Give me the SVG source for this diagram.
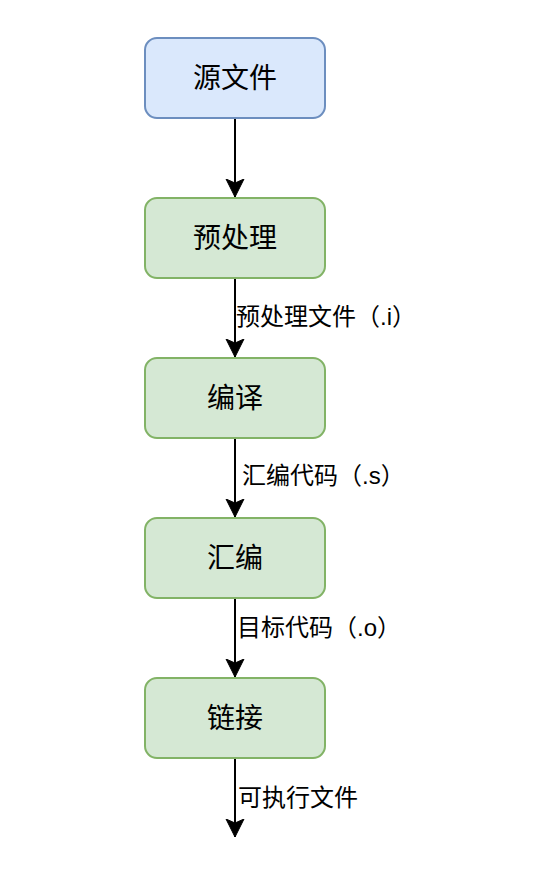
<svg xmlns="http://www.w3.org/2000/svg" width="542" height="872" viewBox="0 0 542 872">
<style>
.bg{fill:#ffffff}
.blue{fill:#dae8fc;stroke:#6c8ebf;stroke-width:2}
.green{fill:#d5e8d4;stroke:#82b366;stroke-width:2}
.nt{font-family:"Liberation Sans","Noto Sans CJK SC",sans-serif;font-size:28px;fill:#000;text-anchor:middle;dominant-baseline:central}
.et{font-family:"Liberation Sans","Noto Sans CJK SC",sans-serif;font-size:24px;fill:#000;dominant-baseline:central}
.edge{stroke:#000;stroke-width:2;fill:none}
</style>
<defs>
<marker id="arr" markerUnits="userSpaceOnUse" markerWidth="20" markerHeight="20" viewBox="0 0 20 20" refX="18" refY="10" orient="auto">
<path d="M18,10 L0,1 L4,10 L0,19 Z" fill="#000" stroke="#000" stroke-width="1"/>
</marker>
</defs>
<rect class="bg" x="0" y="0" width="542" height="872"/>
<g id="connectors">
<line class="edge" x1="235" y1="118" x2="235" y2="197" marker-end="url(#arr)"/>
<line class="edge" x1="235" y1="278" x2="235" y2="357" marker-end="url(#arr)"/>
<line class="edge" x1="235" y1="438" x2="235" y2="517" marker-end="url(#arr)"/>
<line class="edge" x1="235" y1="598" x2="235" y2="677" marker-end="url(#arr)"/>
<line class="edge" x1="235" y1="758" x2="235" y2="837" marker-end="url(#arr)"/>
<text class="et" x="236" y="316">预处理文件（.i）</text>
<text class="et" x="242" y="475">汇编代码（.s）</text>
<text class="et" x="237" y="627">目标代码（.o）</text>
<text class="et" x="238" y="797">可执行文件</text>
</g>
<g id="node-source">
<rect class="blue" x="145" y="38" width="180" height="80" rx="12" ry="12"/>
<text class="nt" x="235" y="78">源文件</text>
</g>
<g id="node-preprocess">
<rect class="green" x="145" y="198" width="180" height="80" rx="12" ry="12"/>
<text class="nt" x="235" y="238">预处理</text>
</g>
<g id="node-compile">
<rect class="green" x="145" y="358" width="180" height="80" rx="12" ry="12"/>
<text class="nt" x="235" y="398">编译</text>
</g>
<g id="node-assemble">
<rect class="green" x="145" y="518" width="180" height="80" rx="12" ry="12"/>
<text class="nt" x="235" y="558">汇编</text>
</g>
<g id="node-link">
<rect class="green" x="145" y="678" width="180" height="80" rx="12" ry="12"/>
<text class="nt" x="235" y="718">链接</text>
</g>
</svg>
